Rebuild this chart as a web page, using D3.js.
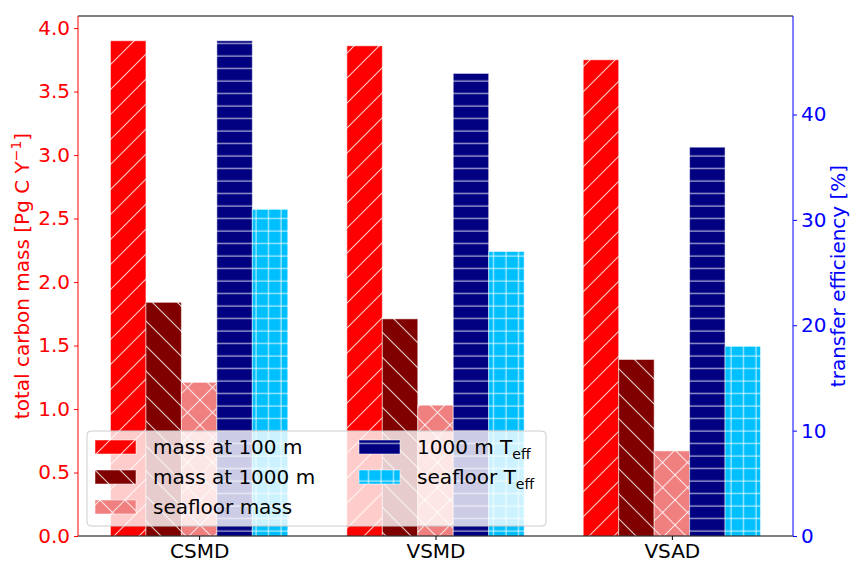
<!DOCTYPE html>
<html>
<head>
<meta charset="utf-8">
<script src="https://cdn.jsdelivr.net/npm/d3@7"></script>
<style>
body { margin: 0; background: #fff; }
text { font-family: "DejaVu Sans", sans-serif; }
</style>
</head>
<body>
<svg id="chart"></svg>
<script>
// data
const categories = ["CSMD", "VSMD", "VSAD"]
const massAt100 = [3.90, 3.86, 3.75]
const massAt1000 = [1.84, 1.71, 1.39]
const seafloorMass = [1.21, 1.03, 0.67]
const teff1000 = [47.0, 43.9, 36.9]
const teffSeafloor = [31.0, 27.0, 18.0]
const leftTicks = [0, 0.5, 1.0, 1.5, 2.0, 2.5, 3.0, 3.5, 4.0]
const rightTicks = [0, 10, 20, 30, 40]

const W = 851, H = 562
const margin = {left: 78, top: 16, right: 58, bottom: 26}
const barW = 0.15

const svg = d3.select('#chart').attr('width', W).attr('height', H)

const x = d3.scaleLinear()
    .domain([-0.5125, 2.5125])
    .range([margin.left, W - margin.right])
const yL = d3.scaleLinear()
    .domain([0, 4.095])
    .range([H - margin.bottom, margin.top])
const yR = d3.scaleLinear()
    .domain([0, 49.35])
    .range([H - margin.bottom, margin.top])

// series: which axis, colour, hatch
const series = [
  {name: 'mass at 100 m', values: massAt100, axis: yL, color: '#ff0000', hatch: 'ne', off: -0.3},
  {name: 'mass at 1000 m', values: massAt1000, axis: yL, color: '#800000', hatch: 'nw', off: -0.15},
  {name: 'seafloor mass', values: seafloorMass, axis: yL, color: '#f08080', hatch: 'x', off: 0},
  {name: '1000 m T', sub: 'eff', values: teff1000, axis: yR, color: '#000080', hatch: 'h', off: 0.15},
  {name: 'seafloor T', sub: 'eff', values: teffSeafloor, axis: yR, color: '#00bfff', hatch: 'plus', off: 0.3}
]

// hatch patterns
const defs = svg.append('defs')
series.forEach((s, i) => {
  const big = (s.hatch == 'h' || s.hatch == 'plus') ? 12.5 : 25
  const p = defs.append('pattern')
      .attr('id', 'hatch' + i)
      .attr('patternUnits', 'userSpaceOnUse')
      .attr('width', big).attr('height', big)
  p.append('rect').attr('width', big).attr('height', big).attr('fill', s.color)
  let segs = []
  if (s.hatch == 'ne' || s.hatch == 'x') {
    segs.push([0, big, big, 0], [-5, 5, 5, -5], [big - 5, big + 5, big + 5, big - 5])
  }
  if (s.hatch == 'nw' || s.hatch == 'x') {
    segs.push([0, 0, big, big], [-5, big - 5, 5, big + 5], [big - 5, -5, big + 5, 5])
  }
  if (s.hatch == 'h' || s.hatch == 'plus') {
    segs.push([0, 6, big, 6])
  }
  if (s.hatch == 'plus') {
    segs.push([6, 0, 6, big])
  }
  p.selectAll('line').data(segs).join('line')
      .attr('x1', d => d[0]).attr('y1', d => d[1])
      .attr('x2', d => d[2]).attr('y2', d => d[3])
      .attr('stroke', '#fff').attr('stroke-opacity', 0.8).attr('stroke-width', 1.05)
})

// bars
series.forEach((s, i) => {
  svg.append('g').selectAll('rect').data(s.values).join('rect')
      .attr('x', (d, j) => x(j + s.off - barW / 2))
      .attr('width', x(barW) - x(0))
      .attr('y', d => s.axis(d))
      .attr('height', d => s.axis(0) - s.axis(d))
      .attr('fill', `url(#hatch${i})`)
      .attr('stroke', '#fff').attr('stroke-opacity', 0.5).attr('stroke-width', 1)
})

const fs = 20
const x0 = margin.left, x1 = W - margin.right
const yTop = margin.top, yBot = H - margin.bottom

// left axis (red)
const gl = svg.append('g')
    .attr('transform', `translate(${x0},0)`)
    .call(d3.axisLeft(yL).tickValues(leftTicks).tickFormat(d3.format('.1f'))
        .tickSize(4).tickSizeOuter(0).tickPadding(4))
gl.select('.domain').remove()
gl.selectAll('line').attr('stroke', '#ff0000')
gl.selectAll('text').attr('fill', '#ff0000').attr('font-size', fs).attr('font-family', 'DejaVu Sans')

// right axis (blue)
const gr = svg.append('g')
    .attr('transform', `translate(${x1},0)`)
    .call(d3.axisRight(yR).tickValues(rightTicks).tickSize(4).tickSizeOuter(0).tickPadding(4))
gr.select('.domain').remove()
gr.selectAll('line').attr('stroke', '#0000ff')
gr.selectAll('text').attr('fill', '#0000ff').attr('font-size', fs).attr('font-family', 'DejaVu Sans')

// bottom axis
const gb = svg.append('g')
    .attr('transform', `translate(0,${yBot})`)
    .call(d3.axisBottom(x).tickValues([0, 1, 2]).tickFormat(i => categories[i])
        .tickSize(4).tickSizeOuter(0).tickPadding(4))
gb.select('.domain').remove()
gb.selectAll('line').attr('stroke', '#000')
gb.selectAll('text').attr('fill', '#000').attr('font-size', fs).attr('font-family', 'DejaVu Sans')

// spines
svg.append('line').attr('x1', x0).attr('x2', x1).attr('y1', yTop).attr('y2', yTop).attr('stroke', '#000')
svg.append('line').attr('x1', x0).attr('x2', x1).attr('y1', yBot).attr('y2', yBot).attr('stroke', '#000')
svg.append('line').attr('x1', x0).attr('x2', x0).attr('y1', yTop).attr('y2', yBot).attr('stroke', '#ff0000')
svg.append('line').attr('x1', x1).attr('x2', x1).attr('y1', yTop).attr('y2', yBot).attr('stroke', '#0000ff')

// axis titles
const yc = (yTop + yBot) / 2
const tl = svg.append('text')
    .attr('transform', `translate(22,${yc}) rotate(-90)`)
    .attr('text-anchor', 'middle').attr('dy', '0.35em')
    .attr('font-size', fs).attr('fill', '#ff0000')
tl.append('tspan').text('total carbon mass [Pg C Y')
tl.append('tspan').attr('dy', -8).attr('font-size', 14).text('\u22121')
tl.append('tspan').attr('dy', 8).text(']')

svg.append('text')
    .attr('transform', `translate(838,${yc}) rotate(-90)`)
    .attr('text-anchor', 'middle').attr('dy', '0.35em')
    .attr('font-size', fs).attr('fill', '#0000ff')
    .text('transfer efficiency [%]')

// legend
const lg = svg.append('g')
lg.append('rect')
    .attr('x', 87).attr('y', 431).attr('width', 459).attr('height', 95)
    .attr('rx', 4).attr('fill', '#fff').attr('fill-opacity', 0.8)
    .attr('stroke', '#cccccc').attr('stroke-width', 1)
const cols = [{hx: 95, tx: 153}, {hx: 359, tx: 417}]
series.forEach((s, i) => {
  const c = cols[i < 3 ? 0 : 1]
  const cy = 447 + (i % 3) * 30 + (i < 3 ? 0 : 0)
  lg.append('rect')
      .attr('x', c.hx).attr('y', cy - 7).attr('width', 41).attr('height', 14)
      .attr('fill', `url(#hatch${i})`)
      .attr('stroke', '#fff').attr('stroke-opacity', 0.5)
  const t = lg.append('text')
      .attr('x', c.tx).attr('y', cy).attr('dy', '0.35em')
      .attr('font-size', fs).attr('fill', '#000')
  t.append('tspan').text(s.name)
  if (s.sub) t.append('tspan').attr('dy', 5).attr('font-size', 14).text(s.sub)
})
</script>
</body>
</html>
